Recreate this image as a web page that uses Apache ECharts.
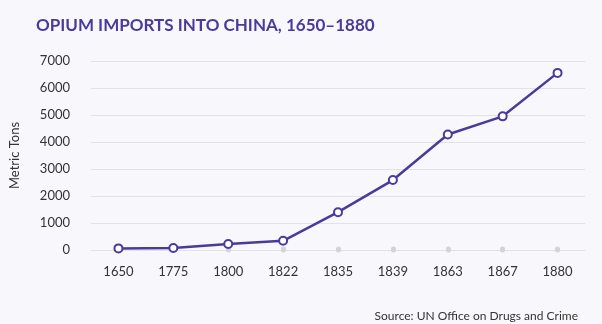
<!DOCTYPE html>
<html><head><meta charset="utf-8">
<script src="https://cdn.jsdelivr.net/npm/echarts@6/dist/echarts.min.js"></script>
<style>html,body{margin:0;padding:0;background:#f8f7fc}#c{width:602px;height:324px}</style>
</head><body><div id="c"></div>
<script>
const years = ['1650','1775','1800','1822','1835','1839','1863','1867','1880'];
const tons = [60, 75, 220, 340, 1400, 2590, 4280, 4950, 6560];
const yTicks = [0, 1000, 2000, 3000, 4000, 5000, 6000, 7000];
const titleText = 'OPIUM IMPORTS INTO CHINA, 1650\u20131880';
const sourceText = 'Source: UN Office on Drugs and Crime';
const yName = 'Metric Tons';

const purple = '#4a3b9b';
const chart = echarts.init(document.getElementById('c'));
chart.setOption({
  backgroundColor: '#f8f7fc',
  textStyle: {fontFamily: 'Lato'},
  title: [{
    text: titleText, left: 31, top: 12,
    textStyle: {fontFamily: 'Lato', fontWeight: 'bold', fontSize: 17, color: purple}
  }, {
    text: sourceText, right: 19, top: 305,
    textStyle: {fontFamily: 'Lato', fontWeight: 'normal', fontSize: 12, color: '#333'}
  }],
  grid: {left: 85, right: 17, top: 61, bottom: 74},
  xAxis: {
    type: 'category', data: years, boundaryGap: true,
    axisLine: {show: true, lineStyle: {color: '#e2e1e7', width: 1}},
    axisTick: {show: true, alignWithLabel: true, inside: true, length: 1,
      lineStyle: {color: '#d4d3d9', width: 5, cap: 'round'}},
    axisLabel: {color: '#333', fontSize: 13, margin: 15}
  },
  yAxis: {
    type: 'value', min: yTicks[0], max: yTicks[yTicks.length - 1], interval: 1000,
    name: yName, nameLocation: 'middle', nameGap: 70, nameRotate: 90,
    nameTextStyle: {color: '#333', fontSize: 13},
    axisLine: {show: false}, axisTick: {show: false},
    axisLabel: {color: '#333', fontSize: 13, margin: 21, formatter: v => String(v)},
    splitLine: {lineStyle: {color: '#e2e1e7', width: 1}}
  },
  series: [{
    type: 'line', data: tons,
    lineStyle: {color: purple, width: 2.5},
    itemStyle: {color: '#fff', borderColor: purple, borderWidth: 2},
    symbol: 'circle', symbolSize: 8, showAllSymbol: true,
    z: 5
  }]
});
</script></body></html>
